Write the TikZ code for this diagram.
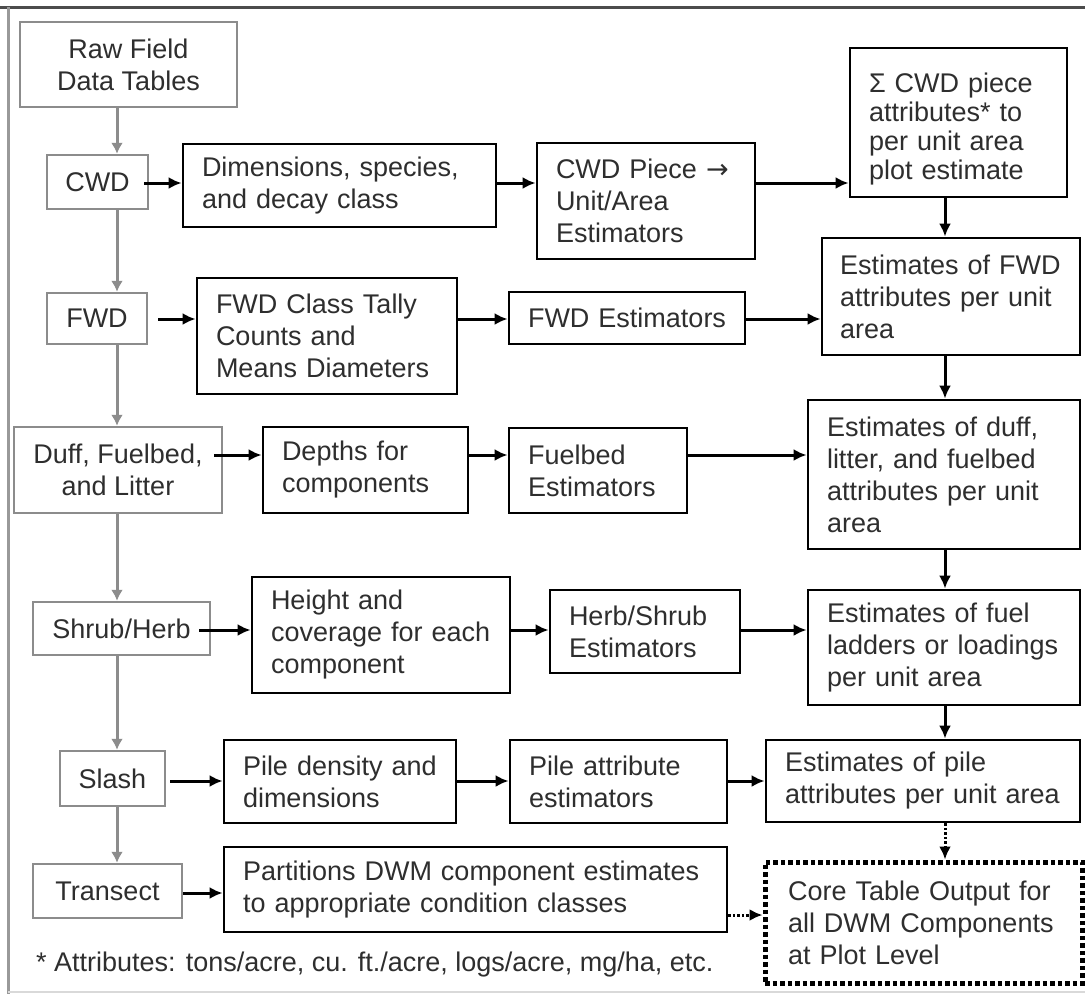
\documentclass[tikz,border=0pt]{standalone}
\usepackage{fontspec}
\setmainfont{Liberation Sans}
\newfontfamily\symfont{DejaVu Sans}
\usetikzlibrary{arrows.meta, calc}

\definecolor{boxgray}{HTML}{8C8C8C}
\definecolor{txt}{HTML}{2E2E2E}

\tikzstyle{graybox} = [rectangle,
draw=boxgray,
line width=2.5pt,
align=center,
inner sep=0pt,
text=txt,
font=\fontsize{27}{32}\selectfont]
\tikzstyle{process} = [rectangle,
draw=black,
line width=2.8pt,
align=left,
inner xsep=19pt,
inner ysep=0pt,
text=txt,
font=\fontsize{27}{32}\selectfont]
\tikzstyle{output} = [process,
line width=5pt,
dash pattern=on 4.5pt off 3pt,
inner xsep=23pt]
\tikzstyle{arrow} = [line width=3pt,-{Latex[length=13pt,width=12pt]}]
\tikzstyle{grayarrow} = [line width=3pt, draw=boxgray, -{Latex[length=11pt,width=12pt]}]
\tikzstyle{dotarrow} = [arrow, dash pattern=on 2.5pt off 2pt]

\begin{document}
\begin{tikzpicture}[x=1pt, y=-1pt]

\useasboundingbox (0,0) rectangle (1085,994);
\fill [white] (0,0) rectangle (1085,994);

% frame
\draw [line width=3pt, draw=black!70] (0,7) -- (1085,7);
\draw [line width=3pt, draw=black!40] (8,7) -- (8,994);
\draw [line width=1.5pt, draw=black!15] (8,992) -- (1085,992);

% left column
\node (raw) [graybox, minimum width=217pt, minimum height=85pt] at (128.5,64.5) {Raw Field\\Data Tables};
\node (cwd) [graybox, minimum width=101pt, minimum height=54pt] at (97.5,182) {CWD};
\node (fwd) [graybox, minimum width=100pt, minimum height=51pt] at (97,318.5) {FWD};
\node (duff) [graybox, minimum width=208pt, minimum height=86pt] at (118,470) {Duff, Fuelbed,\\and Litter};
\node (shrub) [graybox, minimum width=177pt, minimum height=53pt] at (121.5,628.5) {Shrub/Herb};
\node (slash) [graybox, minimum width=105pt, minimum height=55pt] at (112.5,778.5) {Slash};
\node (transect) [graybox, minimum width=149pt, minimum height=54pt] at (107.5,891) {Transect};

% CWD row
\node (dim) [process, text width=275pt, minimum height=83pt] at (339.5,185.5) {Dimensions, species,\\and decay class};
\node (piece) [process, text width=180pt, minimum height=116pt] at (646,201) {CWD Piece {\symfont →}\\Unit/Area\\Estimators};
\node (sigma) [process, text width=179pt, minimum height=149pt, font=\fontsize{27}{29}\selectfont] at (958.5,122.5) {\rule{0pt}{32pt}Σ CWD piece\\attributes* to\\per unit area\\plot estimate};

% FWD row
\node (fwdclass) [process, text width=222pt, minimum height=116pt] at (327,336) {FWD Class Tally\\Counts and\\Means Diameters};
\node (fwdest) [process, text width=198pt, minimum height=52pt] at (627,318) {FWD Estimators};
\node (fwdres) [process, text width=230pt, inner xsep=14pt, minimum height=117pt] at (951,296.5) {\hspace*{4pt}Estimates of FWD\\\hspace*{4pt}attributes per unit\\\hspace*{4pt}area};

% duff row
\node (depths) [process, text width=167pt, minimum height=86pt] at (365.5,470) {Depths for\\components};
\node (fuelbed) [process, text width=140pt, minimum height=85pt] at (598,470.5) {Fuelbed\\Estimators};
\node (duffres) [process, text width=234pt, minimum height=149pt] at (944,474.5) {Estimates of duff,\\litter, and fuelbed\\attributes per unit\\area};

% shrub row
\node (height) [process, text width=220pt, minimum height=116pt] at (381,635) {Height and\\coverage for each\\component};
\node (herbest) [process, text width=152pt, minimum height=83pt] at (645,631.5) {Herb/Shrub\\Estimators};
\node (fuelres) [process, text width=234pt, minimum height=115pt] at (944,647.5) {Estimates of fuel\\ladders or loadings\\per unit area};

% slash row
\node (piledens) [process, text width=194pt, minimum height=83pt] at (340,781.5) {Pile density and\\dimensions};
\node (pileattr) [process, text width=179pt, minimum height=83pt] at (618.5,781.5) {Pile attribute\\estimators};
\node (pileres) [process, text width=276pt, minimum height=82pt] at (923,781) {Estimates of pile\\attributes per unit area};

% transect row
\node (partition) [process, text width=465pt, minimum height=85pt] at (475.5,889.5) {Partitions DWM component estimates\\to appropriate condition classes};
\node (core) [output, text width=271pt, minimum height=121pt] at (923.5,922.5) {Core Table Output for\\all DWM Components\\at Plot Level};

\node (note) [anchor=west, inner sep=0pt, text=txt, font=\fontsize{27}{32}\selectfont] at (36,965) {* Attributes: tons/acre, cu. ft./acre, logs/acre, mg/ha, etc.};

\coordinate (spine) at (117,0);
\coordinate (rcol) at (945,0);
\coordinate (row1) at (0,183);
\coordinate (row2) at (0,319);
\coordinate (row3) at (0,455);
\coordinate (row4) at (0,630);
\coordinate (row5) at (0,781);
\coordinate (row6) at (0,893);
\coordinate (row7) at (0,915);

\draw [grayarrow] (raw.south -| spine) -- (cwd.north -| spine);
\draw [grayarrow] (cwd.south -| spine) -- (fwd.north -| spine);
\draw [grayarrow] (fwd.south -| spine) -- (duff.north -| spine);
\draw [grayarrow] (duff.south -| spine) -- (shrub.north -| spine);
\draw [grayarrow] (shrub.south -| spine) -- (slash.north -| spine);
\draw [grayarrow] (slash.south -| spine) -- (transect.north -| spine);

\draw [arrow] ($(cwd.east |- row1)+(-5,0)$) -- (dim.west |- row1);
\draw [arrow] (dim.east |- row1) -- (piece.west |- row1);
\draw [arrow] (piece.east |- row1) -- (sigma.west |- row1);
\draw [arrow] (sigma.south -| rcol) -- (fwdres.north -| rcol);

\draw [arrow] ($(fwd.east |- row2)+(10,0)$) -- (fwdclass.west |- row2);
\draw [arrow] (fwdclass.east |- row2) -- (fwdest.west |- row2);
\draw [arrow] (fwdest.east |- row2) -- (fwdres.west |- row2);
\draw [arrow] (fwdres.south -| rcol) -- (duffres.north -| rcol);

\draw [arrow] ($(duff.east |- row3)+(-9,0)$) -- (depths.west |- row3);
\draw [arrow] (depths.east |- row3) -- (fuelbed.west |- row3);
\draw [arrow] (fuelbed.east |- row3) -- (duffres.west |- row3);
\draw [arrow] (duffres.south -| rcol) -- (fuelres.north -| rcol);

\draw [arrow] ($(shrub.east |- row4)+(-12,0)$) -- (height.west |- row4);
\draw [arrow] (height.east |- row4) -- (herbest.west |- row4);
\draw [arrow] (herbest.east |- row4) -- (fuelres.west |- row4);
\draw [arrow] (fuelres.south -| rcol) -- (pileres.north -| rcol);

\draw [arrow] ($(slash.east |- row5)+(4,0)$) -- (piledens.west |- row5);
\draw [arrow] (piledens.east |- row5) -- (pileattr.west |- row5);
\draw [arrow] (pileattr.east |- row5) -- (pileres.west |- row5);
\draw [dotarrow] (pileres.south -| rcol) -- (core.north -| rcol);

\draw [arrow] (transect.east |- row6) -- (partition.west |- row6);
\draw [dotarrow] (partition.east |- row7) -- (core.west |- row7);

\end{tikzpicture}
\end{document}
